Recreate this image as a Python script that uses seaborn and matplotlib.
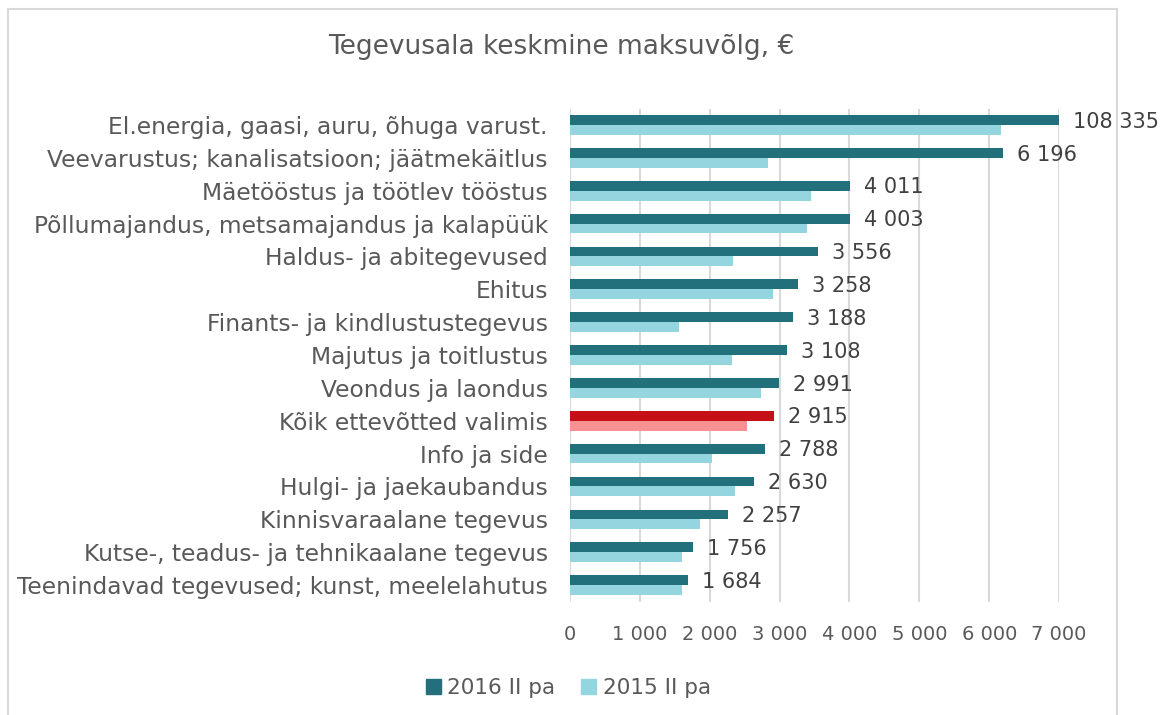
import pandas as pd
import matplotlib.pyplot as plt
import matplotlib.patches as mpatches
import seaborn as sns

# dane
categories = [
    "El.energia, gaasi, auru, õhuga varust.",
    "Veevarustus; kanalisatsioon; jäätmekäitlus",
    "Mäetööstus ja töötlev tööstus",
    "Põllumajandus, metsamajandus ja kalapüük",
    "Haldus- ja abitegevused",
    "Ehitus",
    "Finants- ja kindlustustegevus",
    "Majutus ja toitlustus",
    "Veondus ja laondus",
    "Kõik ettevõtted valimis",
    "Info ja side",
    "Hulgi- ja jaekaubandus",
    "Kinnisvaraalane tegevus",
    "Kutse-, teadus- ja tehnikaalane tegevus",
    "Teenindavad tegevused; kunst, meelelahutus",
]
v2016 = [108335, 6196, 4011, 4003, 3556, 3258, 3188, 3108, 2991, 2915, 2788, 2630, 2257, 1756, 1684]
v2015 = [6165, 2830, 3445, 3390, 2330, 2905, 1565, 2320, 2730, 2530, 2025, 2360, 1860, 1605, 1605]
series = ["2016 II pa", "2015 II pa"]
highlight = "Kõik ettevõtted valimis"

x_max = 7000
x_ticks = [0, 1000, 2000, 3000, 4000, 5000, 6000, 7000]

dark, light = "#23707D", "#94D5E0"
red, pink = "#C41016", "#F79194"
grey_txt = "#595959"
grid_col = "#D9D9D9"

df = pd.DataFrame({
    "Tegevusala": categories * 2,
    "Väärtus": v2016 + v2015,
    "Periood": [series[0]] * len(categories) + [series[1]] * len(categories),
})

sns.set_style("white")
plt.rcParams["font.family"] = ["DejaVu Sans"]

fig = plt.figure(figsize=(11.6, 7.15), dpi=100)
ax = fig.add_axes([0.4914, 0.1587, 0.4216, 0.6895])

sns.barplot(data=df, y="Tegevusala", x="Väärtus", hue="Periood", order=categories,
            hue_order=series, palette=[dark, light], width=0.6, saturation=1,
            linewidth=0, ax=ax, legend=False)

# esiletõstetud rida punaseks
idx = categories.index(highlight)
ax.containers[0][idx].set_facecolor(red)
ax.containers[1][idx].set_facecolor(pink)

ax.set_xlim(0, x_max)
ax.set_xticks(x_ticks)
ax.set_xticklabels([f"{t:,}".replace(",", " ") for t in x_ticks], fontsize=14, color=grey_txt)
ax.tick_params(axis="y", labelsize=16.8, labelcolor=grey_txt, length=0, pad=16)
ax.tick_params(axis="x", length=0, pad=17)
ax.set_xlabel("")
ax.set_ylabel("")
ax.grid(axis="x", color=grid_col, linewidth=1.5)
ax.set_axisbelow(True)
for s in ax.spines.values():
    s.set_visible(False)

# etiketid 2016 tulpade taha
for i, v in enumerate(v2016):
    end = min(v, x_max)
    ax.text(end + 200, i - 0.1, f"{v:,}".replace(",", " "), va="center", ha="left",
            fontsize=15, color="#404040", clip_on=False, zorder=10)

fig.suptitle("Tegevusala keskmine maksuvõlg, €", x=0.4836, y=0.952, fontsize=19, color=grey_txt)

handles = [mpatches.Patch(color=dark, label=series[0]), mpatches.Patch(color=light, label=series[1])]
fig.legend(handles=handles, loc="center", bbox_to_anchor=(0.49, 0.038), ncol=2, frameon=False,
           fontsize=15.5, labelcolor=grey_txt, handlelength=0.7, handleheight=0.7, handletextpad=0.3,
           columnspacing=1.2)

# ramm ümber diagrammi
fig.add_artist(mpatches.Rectangle((8 / 1160, -0.05), (1117 - 8) / 1160, 1.05 - 9 / 715,
                                  transform=fig.transFigure, fill=False, edgecolor=grid_col,
                                  linewidth=1.5, clip_on=False, zorder=-5))

fig.savefig("out.png", dpi=100)
